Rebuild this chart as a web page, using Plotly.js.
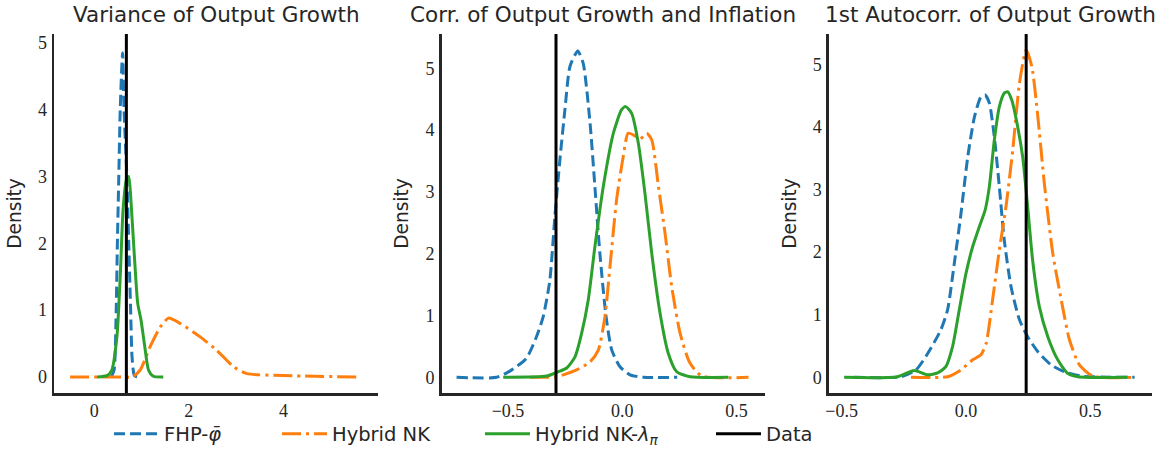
<!DOCTYPE html>
<html>
<head>
<meta charset="utf-8">
<script src="https://cdn.plot.ly/plotly-3.0.1.min.js"></script>
<style>html,body{margin:0;padding:0;background:#fff;}#chart{width:1172px;height:451px;}</style>
</head>
<body>
<div id="chart"></div>
<script>
// ---- Data ----
const panelTitles = ["Variance of Output Growth", "Corr. of Output Growth and Inflation", "1st Autocorr. of Output Growth"];
const seriesNames = ["FHP-<i>φ̄</i>", "Hybrid NK", "Hybrid NK-<i>λ</i><sub><i>π</i></sub>", "Data"];

// Panel 1: Variance of Output Growth
const fhp1_x = [0.36, 0.42, 0.465, 0.49, 0.52, 0.55, 0.6, 0.63, 0.69, 0.73, 0.77, 0.8, 0.85, 0.92, 1.0];
const fhp1_y = [0, 0.1, 1.0, 2.0, 3.0, 4.0, 4.85, 4.0, 3.0, 2.0, 1.0, 0.3, 0.02, 0, 0];
const hnk1_x = [-0.51, 0.5, 0.8, 0.97, 1.18, 1.4, 1.57, 1.82, 2.24, 2.59, 2.95, 3.23, 4.0, 5.59];
const hnk1_y = [0, 0, 0, 0.1, 0.45, 0.75, 0.88, 0.8, 0.6, 0.4, 0.15, 0.05, 0.02, 0];
const hnkl1_x = [0.06, 0.27, 0.37, 0.48, 0.55, 0.61, 0.68, 0.73, 0.78, 0.85, 0.92, 0.99, 1.06, 1.15, 1.25, 1.46];
const hnkl1_y = [0, 0.02, 0.1, 0.6, 1.5, 2.5, 2.95, 3.0, 2.6, 1.8, 1.1, 0.85, 0.5, 0.1, 0.01, 0];
const data1 = 0.68;

// Panel 2: Corr. of Output Growth and Inflation
const fhp2_x = [-0.725, -0.55, -0.492, -0.419, -0.375, -0.346, -0.317, -0.295, -0.273, -0.251, -0.229, -0.195, -0.171, -0.141, -0.12, -0.098, -0.071, -0.046, -0.01, 0.034, 0.092, 0.24];
const fhp2_y = [0, 0, 0.1, 0.31, 0.66, 0.98, 1.57, 2.6, 3.52, 4.33, 5.03, 5.28, 5.08, 4.11, 3.09, 2.0, 0.98, 0.44, 0.17, 0.04, 0, 0];
const hnk2_x = [-0.404, -0.287, -0.2, -0.141, -0.105, -0.076, -0.054, -0.025, 0.004, 0.026, 0.063, 0.077, 0.107, 0.129, 0.158, 0.187, 0.216, 0.253, 0.296, 0.348, 0.552];
const hnk2_y = [0, 0.01, 0.12, 0.25, 0.44, 0.98, 1.79, 2.87, 3.57, 3.95, 3.89, 3.85, 3.95, 3.84, 3.09, 2.33, 1.47, 0.71, 0.23, 0.02, 0];
const hnkl2_x = [-0.521, -0.331, -0.287, -0.243, -0.207, -0.178, -0.149, -0.12, -0.083, -0.039, -0.003, 0.015, 0.041, 0.07, 0.099, 0.129, 0.165, 0.201, 0.238, 0.296, 0.464];
const hnkl2_y = [0, 0.02, 0.08, 0.15, 0.33, 0.71, 1.25, 2.11, 3.09, 3.95, 4.33, 4.38, 4.27, 3.79, 2.98, 2.0, 1.04, 0.39, 0.09, 0.01, 0];
const data2 = -0.29;

// Panel 3: 1st Autocorr. of Output Growth
const fhp3_x = [-0.45, -0.262, -0.201, -0.154, -0.101, -0.074, -0.047, -0.02, 0.007, 0.034, 0.06, 0.077, 0.094, 0.114, 0.134, 0.154, 0.181, 0.215, 0.248, 0.289, 0.342, 0.396, 0.463, 0.678];
const fhp3_y = [0, 0.01, 0.12, 0.38, 0.76, 1.08, 1.82, 2.62, 3.52, 4.16, 4.48, 4.51, 4.38, 3.84, 3.05, 2.19, 1.45, 0.92, 0.65, 0.41, 0.2, 0.09, 0.02, 0];
const hnk3_x = [-0.221, -0.074, -0.02, 0.027, 0.06, 0.081, 0.107, 0.134, 0.161, 0.188, 0.215, 0.242, 0.265, 0.289, 0.315, 0.349, 0.383, 0.416, 0.456, 0.51, 0.685];
const hnk3_y = [0, 0.01, 0.12, 0.28, 0.36, 0.54, 1.24, 2.03, 2.73, 3.63, 4.7, 5.23, 4.96, 4.16, 3.1, 1.98, 1.24, 0.6, 0.2, 0.02, 0];
const hnkl3_x = [-0.49, -0.275, -0.208, -0.154, -0.114, -0.081, -0.054, -0.027, 0.0, 0.027, 0.054, 0.077, 0.094, 0.114, 0.134, 0.154, 0.168, 0.184, 0.208, 0.228, 0.248, 0.268, 0.295, 0.329, 0.369, 0.41, 0.45, 0.651];
const hnkl3_y = [0, 0.01, 0.11, 0.04, 0.07, 0.17, 0.49, 1.08, 1.66, 2.09, 2.41, 2.67, 3.05, 3.79, 4.32, 4.54, 4.56, 4.43, 4.0, 3.52, 2.73, 1.87, 1.13, 0.65, 0.28, 0.06, 0.01, 0];
const data3 = 0.242;

const xTickVals = [[0, 2, 4], [-0.5, 0, 0.5], [-0.5, 0, 0.5]];
const xTickText = [["0", "2", "4"], ["−0.5", "0.0", "0.5"], ["−0.5", "0.0", "0.5"]];
const yTickVals = [0, 1, 2, 3, 4, 5];
const yTickText = ["0", "1", "2", "3", "4", "5"];

// ---- Styling ----
const C = {fhp: "#1f77b4", hnk: "#ff7f0e", hnkl: "#2ca02c", data: "#000000", ink: "#262626"};
const LW = 3;
const sansFont = "DejaVu Sans, sans-serif";
const serifFont = "Liberation Serif, serif";
const W = 1172, H = 451;

const panels = [
  {fx: fhp1_x, fy: fhp1_y, hx: hnk1_x, hy: hnk1_y, lx: hnkl1_x, ly: hnkl1_y, d: data1},
  {fx: fhp2_x, fy: fhp2_y, hx: hnk2_x, hy: hnk2_y, lx: hnkl2_x, ly: hnkl2_y, d: data2},
  {fx: fhp3_x, fy: fhp3_y, hx: hnk3_x, hy: hnk3_y, lx: hnkl3_x, ly: hnkl3_y, d: data3}
];

const traces = [];
const shapes = [];
panels.forEach((p, i) => {
  const xa = i === 0 ? "x" : "x" + (i + 1);
  const ya = i === 0 ? "y" : "y" + (i + 1);
  const common = {type: "scatter", mode: "lines", xaxis: xa, yaxis: ya, hoverinfo: "skip"};
  traces.push(Object.assign({}, common, {x: p.fx, y: p.fy, name: seriesNames[0], legend: "legend", showlegend: i === 0,
    line: {color: C.fhp, width: LW, dash: "11px,5px", shape: "spline", smoothing: 0.6}}));
  traces.push(Object.assign({}, common, {x: p.hx, y: p.hy, name: seriesNames[1], legend: "legend2", showlegend: i === 0,
    line: {color: C.hnk, width: LW, dash: "19px,5px,3px,5px", shape: "spline", smoothing: 0.6}}));
  traces.push(Object.assign({}, common, {x: p.lx, y: p.ly, name: seriesNames[2], legend: "legend3", showlegend: i === 0,
    line: {color: C.hnkl, width: LW, shape: "spline", smoothing: 0.6}}));
  shapes.push({type: "line", xref: xa, yref: ya + " domain", x0: p.d, x1: p.d, y0: 0, y1: 1,
    line: {color: C.data, width: 3}, name: seriesNames[3], legend: "legend4", showlegend: i === 0});
});

const ranges = [
  {x: [-0.85, 6.0], y: [-0.24, 5.13]},
  {x: [-0.79, 0.624], y: [-0.254, 5.555]},
  {x: [-0.551, 0.748], y: [-0.25, 5.484]}
];
const domains = [[0, 0.2951], [0.3531, 0.6475], [0.7058, 1]];

// legend item left edges (px) in the reference
const legendStarts = [109, 277, 480, 711];
function legendBox(px) {
  return {orientation: "h", xref: "container", yref: "container", x: px / W, xanchor: "left",
    y: 1 - 434 / H, yanchor: "middle", itemwidth: 45,
    font: {family: sansFont, size: 19.5, color: C.ink}, bgcolor: "rgba(0,0,0,0)", borderwidth: 0};
}

const layout = {
  width: W, height: H,
  margin: {l: 54, r: 20, t: 34, b: 58, autoexpand: false},
  paper_bgcolor: "#ffffff", plot_bgcolor: "#ffffff",
  showlegend: true,
  legend: legendBox(legendStarts[0]),
  legend2: legendBox(legendStarts[1]),
  legend3: legendBox(legendStarts[2]),
  legend4: legendBox(legendStarts[3]),
  shapes: shapes,
  annotations: []
};

for (let i = 0; i < 3; i++) {
  const sfx = i === 0 ? "" : String(i + 1);
  layout["xaxis" + sfx] = {
    domain: domains[i], anchor: "y" + sfx, range: ranges[i].x,
    tickmode: "array", tickvals: xTickVals[i], ticktext: xTickText[i],
    showgrid: false, zeroline: false, showline: true, linecolor: C.ink, linewidth: 2.5,
    ticks: "", ticklabelstandoff: 0,
    tickfont: {family: serifFont, size: 18, color: C.ink}
  };
  layout["yaxis" + sfx] = {
    domain: [0, 1], anchor: "x" + sfx, range: ranges[i].y,
    tickmode: "array", tickvals: yTickVals, ticktext: yTickText,
    showgrid: false, zeroline: false, showline: true, linecolor: C.ink, linewidth: 2.5,
    ticks: "", ticklabelstandoff: 1,
    tickfont: {family: serifFont, size: 18, color: C.ink},
    title: {text: "Density", font: {family: sansFont, size: 18.6, color: C.ink}, standoff: 12}
  };
  layout.annotations.push({
    text: panelTitles[i], xref: "x" + sfx + " domain", x: 0.5, xanchor: "center",
    yref: "paper", y: 1 + (34 - 15) / 359, yanchor: "middle", showarrow: false,
    font: {family: sansFont, size: 21.5, color: C.ink}
  });
}

Plotly.newPlot("chart", traces, layout, {staticPlot: true, displayModeBar: false});
</script>
</body>
</html>
